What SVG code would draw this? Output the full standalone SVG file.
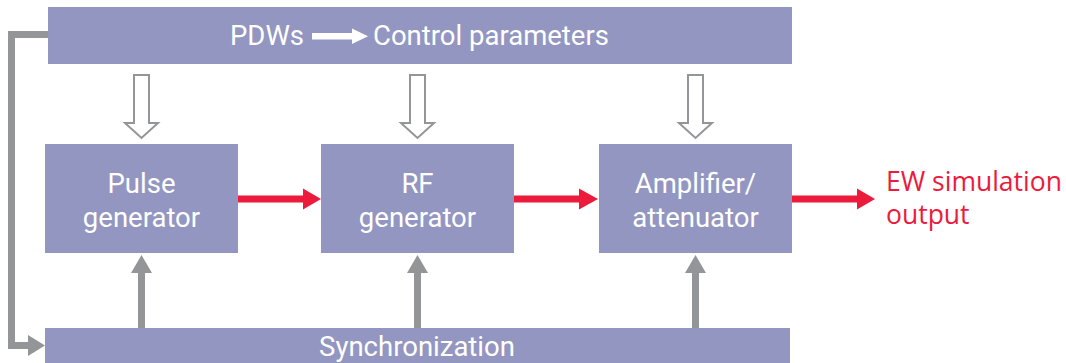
<svg xmlns="http://www.w3.org/2000/svg" width="1066" height="363" viewBox="0 0 1066 363">
<defs>
<style>
.box{fill:#9396c1}
.lbl{font-family:Roboto,"Liberation Sans",sans-serif;font-size:27.5px;fill:#ffffff;text-anchor:middle}
.red{fill:#ec1a3b}
.grey{fill:#939598}
.hollow{fill:#ffffff;stroke:#939598;stroke-width:2}
.out{font-family:"Open Sans","Liberation Sans",sans-serif;font-size:26.5px;fill:#ec1a3b}
</style>
</defs>
<rect width="1066" height="363" fill="#ffffff"/>
<g id="control">
<rect class="box" x="48" y="7" width="744" height="57"/>
<text class="lbl" x="304" y="45" style="text-anchor:end">PDWs</text>
<rect x="312" y="33" width="42" height="6.5" fill="#ffffff"/>
<polygon points="352,28.5 368,36.2 352,44" fill="#ffffff"/>
<text class="lbl" x="373" y="45" style="text-anchor:start">Control parameters</text>
</g>
<g id="pulse">
<rect class="box" x="45" y="144" width="193" height="109"/>
<text class="lbl" x="141.5" y="193">Pulse</text>
<text class="lbl" x="141.5" y="227">generator</text>
</g>
<g id="rf">
<rect class="box" x="321" y="144" width="193" height="109"/>
<text class="lbl" x="417.5" y="193">RF</text>
<text class="lbl" x="417.5" y="227">generator</text>
</g>
<g id="amp">
<rect class="box" x="599" y="144" width="193" height="109"/>
<text class="lbl" x="695.5" y="193">Amplifier/</text>
<text class="lbl" x="695.5" y="227">attenuator</text>
</g>
<g id="sync">
<rect class="box" x="45" y="328" width="745" height="40"/>
<text class="lbl" x="417" y="356">Synchronization</text>
</g>
<g id="output">
<text class="out" x="886" y="191">EW simulation</text>
<text class="out" x="886" y="224">output</text>
</g>
<g id="connectors">
<polygon class="hollow" points="134,75 149,75 149,123 158,123 141.5,138 125,123 134,123"/>
<polygon class="hollow" points="410,75 425,75 425,123 434,123 417.5,138 401,123 410,123"/>
<polygon class="hollow" points="688,75 703,75 703,123 712,123 695.5,138 679,123 688,123"/>
<rect class="red" x="238" y="195.5" width="67" height="7"/>
<polygon class="red" points="303,188.5 321,199 303,209.5"/>
<rect class="red" x="514" y="195.5" width="67" height="7"/>
<polygon class="red" points="579,188.5 598,199 579,209.5"/>
<rect class="red" x="792" y="195.5" width="67" height="7"/>
<polygon class="red" points="857,188.5 875,199 857,209.5"/>
<rect class="grey" x="138" y="272" width="7" height="56"/>
<polygon class="grey" points="131,273 141.5,255 152,273"/>
<rect class="grey" x="414" y="272" width="7" height="56"/>
<polygon class="grey" points="407,273 417.5,255 428,273"/>
<rect class="grey" x="692" y="272" width="7" height="56"/>
<polygon class="grey" points="685,273 695.5,255 706,273"/>
<polyline points="48,34.5 11.5,34.5 11.5,345.5 30,345.5" fill="none" stroke="#939598" stroke-width="7"/>
<polygon class="grey" points="28,335 45,345.5 28,356"/>
</g>
</svg>
